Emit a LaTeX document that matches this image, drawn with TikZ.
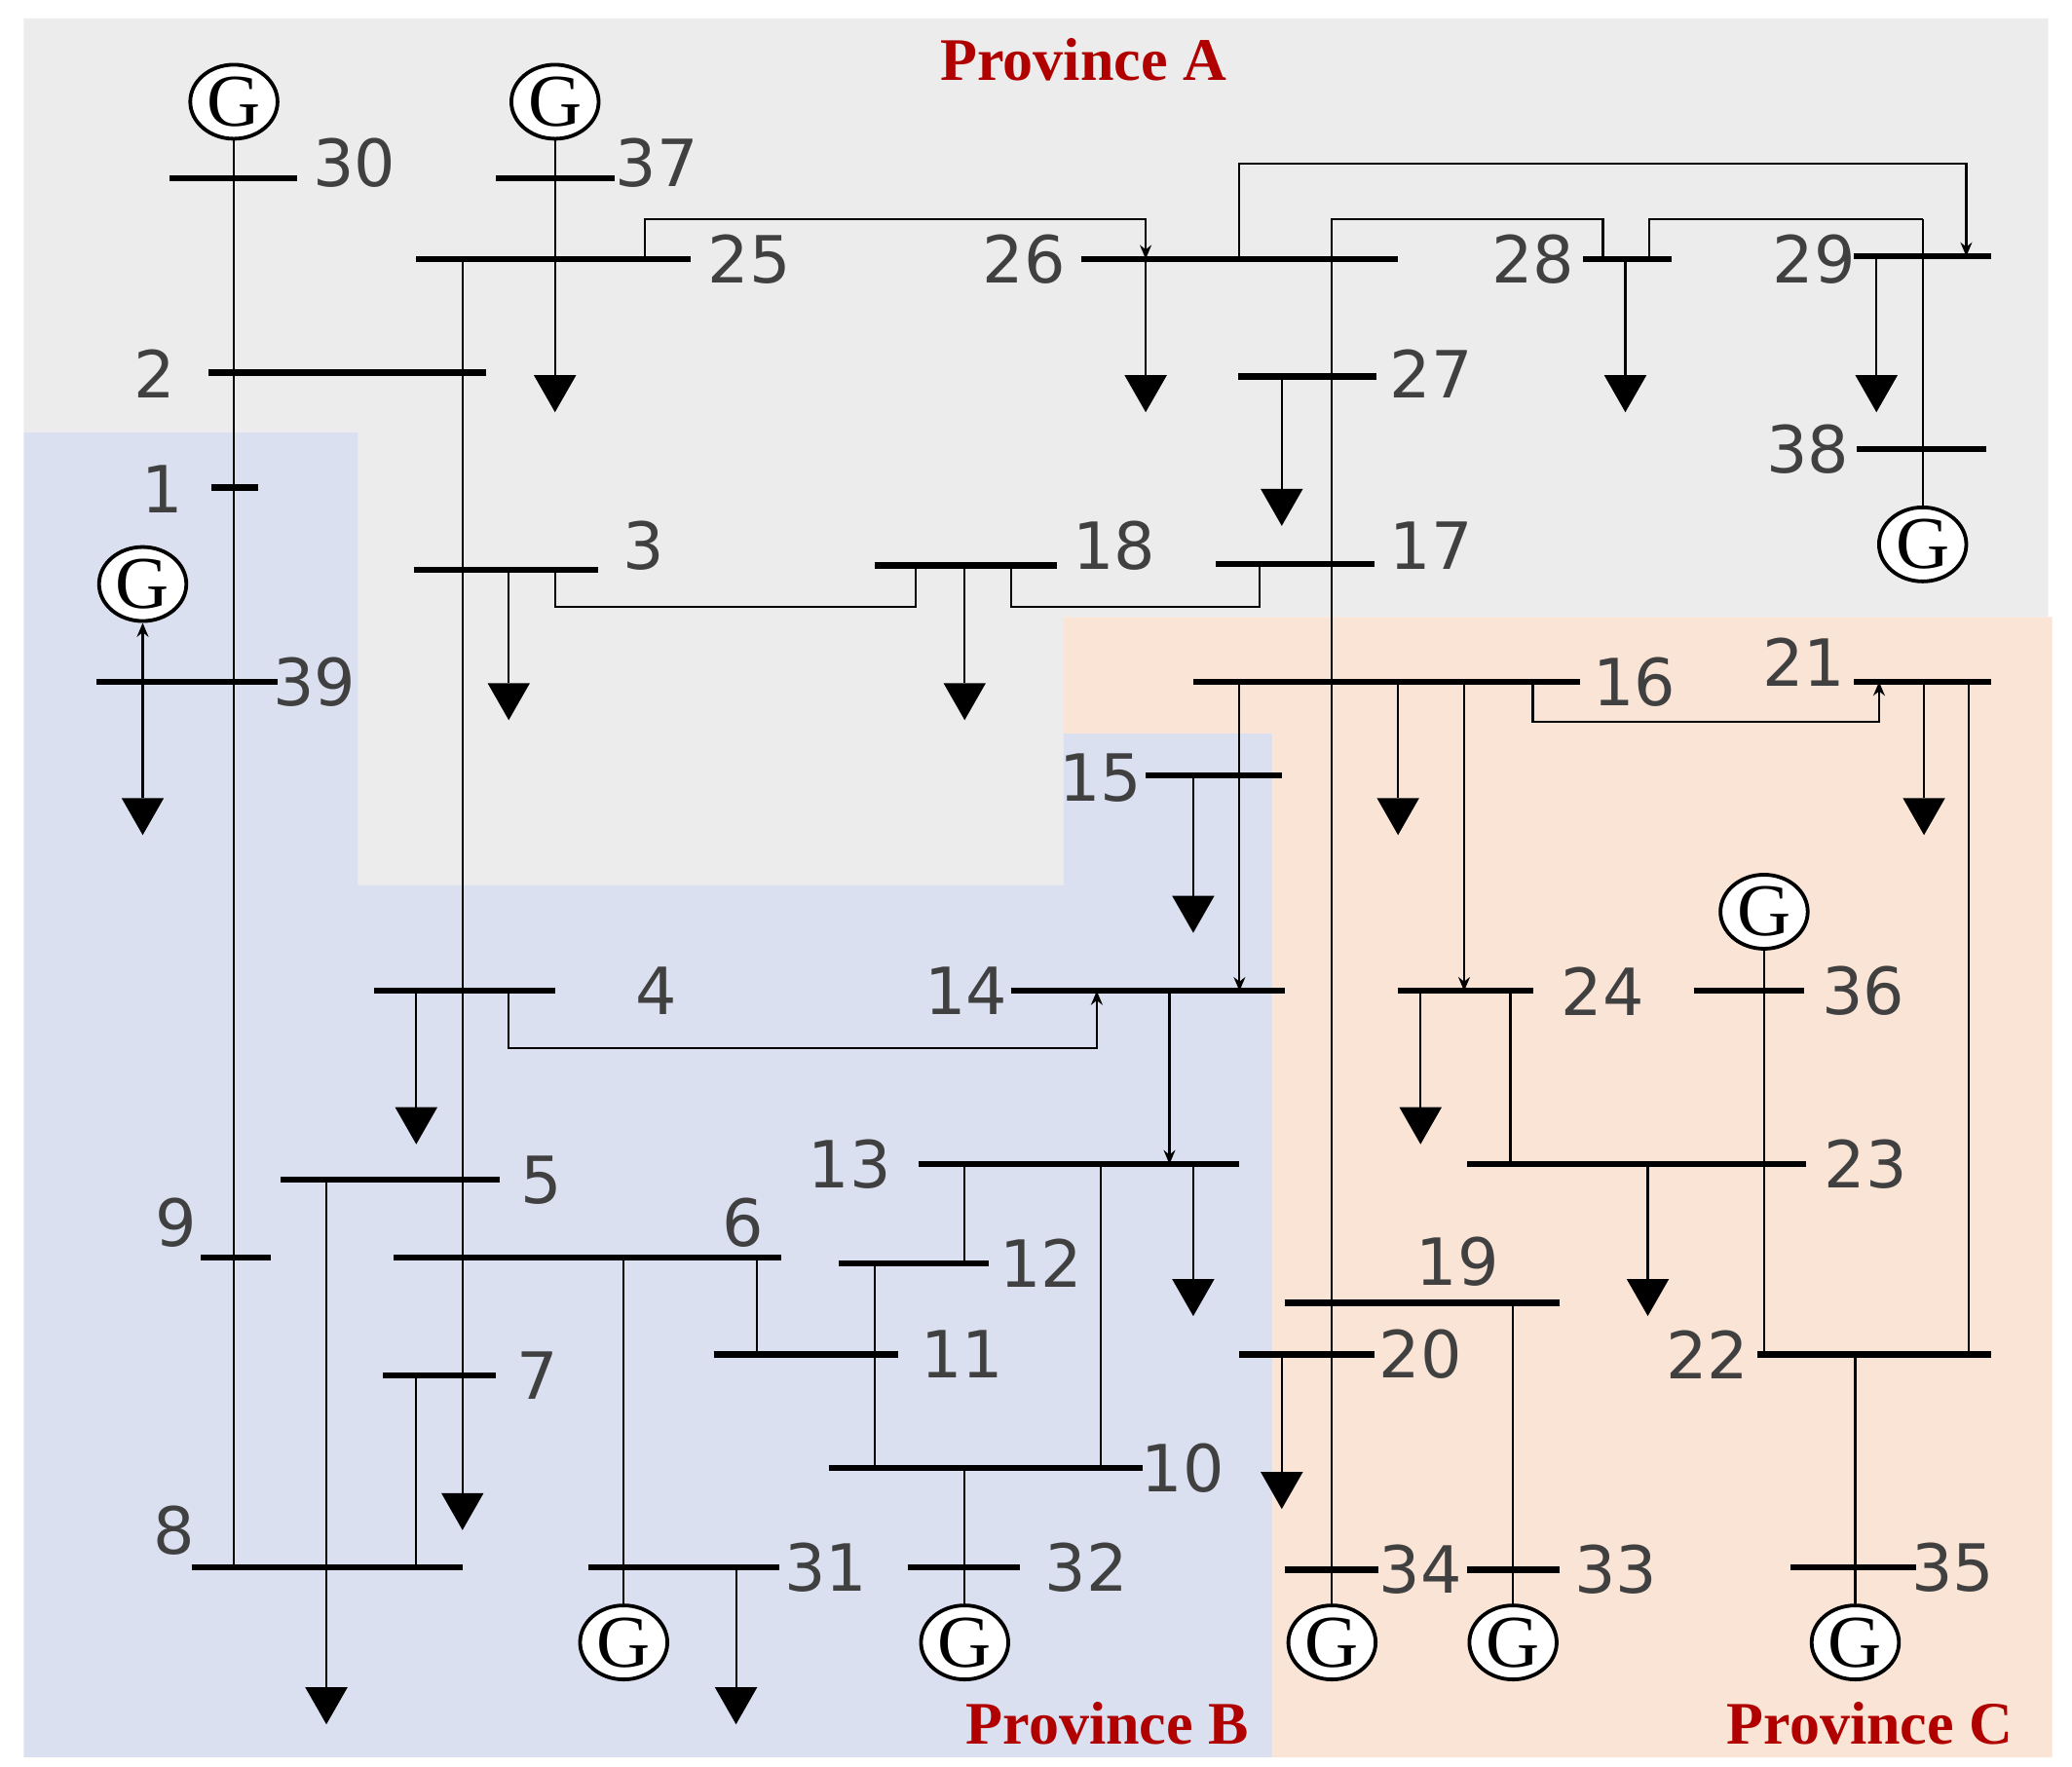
\documentclass[tikz,border=0pt]{standalone}
\usepackage{fontspec}
\setmainfont{DejaVu Sans}
\newfontfamily\provfont{Liberation Serif}
\newfontfamily\genfont{Liberation Serif}
\usetikzlibrary{shapes.geometric,arrows.meta}

\definecolor{provA}{HTML}{ECECEC}
\definecolor{provB}{HTML}{DBE0F1}
\definecolor{provC}{HTML}{F9E4D6}
\definecolor{provred}{HTML}{B00000}

\tikzset{
  bus/.style={line width=1.3pt},
  link/.style={line width=0.45pt},
  tap/.style={line width=0.45pt, -{Stealth[length=3pt,width=2.5pt]}},
  lbl/.style={font=\fontsize{14}{16}\selectfont, text=black!75, inner sep=0pt},
  prov/.style={font=\provfont\bfseries\fontsize{13}{15}\selectfont, text=provred},
  gen/.style={ellipse, draw, thick, fill=white, minimum width=0.66cm, minimum height=0.56cm,
    inner sep=0pt, font=\genfont\fontsize{16}{16}\selectfont}
}

\newcommand{\loadat}[3]{%
  \draw[link] (#1,#2) -- (#1,#3-28);
  \fill (#1-16,#3-28) -- (#1+16,#3-28) -- (#1,#3) -- cycle;}

\begin{document}
\begin{tikzpicture}[x=0.01cm, y=-0.01cm]
  \useasboundingbox (0,0) rectangle (1568,1337);

  % provinces
  \fill[provA] (18,14) -- (1550,14) -- (1550,467) -- (805,467) -- (805,670)
    -- (271,670) -- (271,327) -- (18,327) -- cycle;
  \fill[provB] (18,327) -- (271,327) -- (271,670) -- (805,670) -- (805,555)
    -- (963,555) -- (963,1330) -- (18,1330) -- cycle;
  \fill[provC] (805,467) -- (1553,467) -- (1553,1330) -- (963,1330) -- (963,555)
    -- (805,555) -- cycle;
  \node[prov] (pa) at (820,45) {Province A};
  \node[prov] (pb) at (838,1304) {Province B};
  \node[prov] (pc) at (1415,1304) {Province C};

  % generators
  \begin{scope}[every node/.style={gen}]
    \node (g30) at (177,77) {G};
    \node (g37) at (420,77) {G};
    \node (g39) at (108,442) {G};
    \node (g38) at (1455,412) {G};
    \node (g36) at (1335,690) {G};
    \node (g31) at (472,1243) {G};
    \node (g32) at (730,1243) {G};
    \node (g34) at (1008,1243) {G};
    \node (g33) at (1145,1243) {G};
    \node (g35) at (1404,1243) {G};
  \end{scope}

  % vertical lines
  \draw[link] (g30) -- (177,1186);
  \draw[link] (g37) -- (420,196);
  \draw[link] (g31) -- (472,952);
  \draw[link] (g32) -- (730,1111);
  \draw[link] (g34) -- (1008,166) -- (1213,166) -- (1213,196);
  \draw[link] (g33) -- (1145,986);
  \draw[link] (g35) -- (1404,1025);
  \draw[link] (g36) -- (1335,1025);
  \draw[tap] (108,516) -- (g39);
  \draw[link] (1455,166) -- (g38);
  \draw[link] (1248,196) -- (1248,166) -- (1455,166);

  \draw[tap] (488,196) -- (488,166) -- (867,166) -- (867,196);
  \draw[tap] (938,196) -- (938,124) -- (1488,124) -- (1488,194);
  \draw[link] (420,431) -- (420,459) -- (693,459) -- (693,428);
  \draw[link] (765,428) -- (765,459) -- (953,459) -- (953,427);
  \draw[tap] (1160,516) -- (1160,546) -- (1422,546) -- (1422,516);
  \draw[tap] (938,516) -- (938,750);
  \draw[tap] (1108,516) -- (1108,750);
  \draw[link] (1490,516) -- (1490,1025);
  \draw[tap] (385,750) -- (385,793) -- (830,793) -- (830,750);
  \draw[tap] (885,750) -- (885,881);
  \draw[link] (1143,750) -- (1143,881);
  \draw[link] (730,881) -- (730,956);
  \draw[link] (833,881) -- (833,1111);
  \draw[link] (573,952) -- (573,1025);
  \draw[link] (662,956) -- (662,1111);
  \draw[link] (315,1041) -- (315,1186);

  % loads
  \foreach \x/\ya/\yb in {420/196/312, 867/196/312, 1230/196/312, 1420/196/312,
      970/285/398, 385/431/545, 730/428/545, 108/516/632, 1058/516/632,
      1456/516/632, 903/587/706, 315/750/866, 1075/750/866, 1247/881/996,
      903/881/996, 970/1025/1142, 350/196/1158, 247/893/1305, 557/1186/1305}
    \loadat{\x}{\ya}{\yb};

  % buses
  \foreach \xa/\xb/\y in {128/225/135, 375/465/135, 315/523/196, 818/1058/196,
      1198/1265/196, 1403/1507/194, 158/368/282, 937/1042/285, 1405/1503/340,
      160/195/369, 313/453/431, 662/800/428, 920/1040/427, 73/210/516,
      903/1196/516, 1403/1507/516, 867/970/587, 283/420/750, 765/972/750,
      1058/1160/750, 1282/1365/750, 695/938/881, 1110/1367/881, 212/378/893,
      152/205/952, 298/591/952, 635/748/956, 972/1180/986, 540/680/1025,
      938/1040/1025, 1330/1507/1025, 290/375/1041, 627/865/1111, 145/350/1186,
      445/590/1186, 687/772/1186, 972/1043/1188, 1110/1180/1188, 1355/1450/1186}
    \draw[bus] (\xa,\y) -- (\xb,\y);

  % bus numbers
  \foreach \t/\x/\y in {30/268/123, 37/497/123, 25/567/196, 26/775/196,
      28/1160/196, 29/1373/196, 2/117/283, 27/1083/283, 38/1368/340,
      1/123/370, 3/487/413, 18/843/413, 17/1083/413, 39/238/516, 16/1237/516,
      21/1365/501, 15/833/589, 4/497/750, 14/731/750, 24/1213/750,
      36/1410/750, 13/643/881, 23/1412/881, 5/410/893, 9/133/925, 6/562/925,
      12/788/956, 19/1103/955, 11/728/1025, 20/1075/1025, 22/1292/1025,
      7/407/1041, 10/895/1111, 8/132/1158, 31/625/1186, 32/822/1186,
      34/1075/1188, 33/1223/1188, 35/1478/1186}
    \node[lbl] (n\t) at (\x,\y) {\t};
\end{tikzpicture}
\end{document}
